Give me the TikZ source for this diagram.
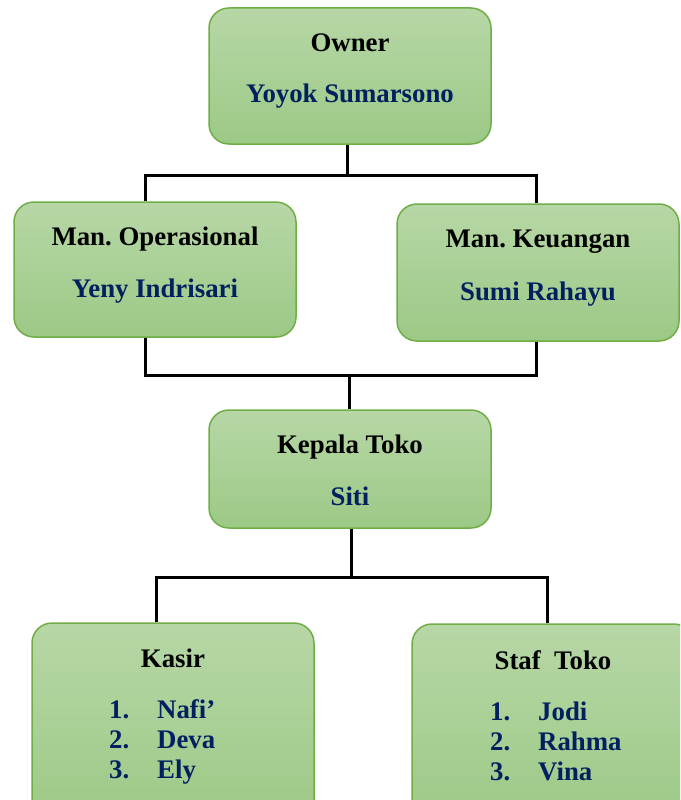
\documentclass[tikz,border=0pt]{standalone}
\usepackage{fontspec}
\setmainfont{Liberation Serif}
\usetikzlibrary{positioning}
\definecolor{boxline}{RGB}{112,173,71}
\definecolor{boxtop}{RGB}{183,215,166}
\definecolor{boxbot}{RGB}{156,201,134}
\definecolor{navy}{RGB}{0,32,96}

\begin{document}
\begin{tikzpicture}[x=1pt, y=-1pt,
  box/.style={draw=boxline, line width=1.5pt, rounded corners=20pt, top color=boxtop, bottom color=boxbot, minimum width=282pt, inner sep=0pt},
  title/.style={anchor=base, font=\fontsize{26.8}{30}\selectfont\bfseries},
  who/.style={title, text=navy},
  crew/.style={anchor=base west, inner sep=0pt, text=navy, font=\fontsize{26.8}{30}\selectfont\bfseries},
  conn/.style={line width=3pt}]
  \clip (0,0) rectangle (680,800);
  % boxes
  \node[box, minimum height=136pt] (owner) at (350,76) {};
  \node[box, minimum height=135pt] (opr) at (155,269.5) {};
  \node[box, minimum height=137pt] (keu) at (538,272.5) {};
  \node[box, minimum height=118pt] (kepala) at (350,469) {};
  \node[box, minimum height=200pt] (kasir) at (173,723) {};
  \node[box, minimum height=200pt] (staf) at (553,724) {};
  % texts
  \node[title] (ownerT) at (350,52) {Owner};
  \node[who] (ownerN) at (350,102) {Yoyok Sumarsono};
  \node[title] (oprT) at (155,245) {Man.\ Operasional};
  \node[who] (oprN) at (155,297) {Yeny Indrisari};
  \node[title] (keuT) at (538,247) {Man.\ Keuangan};
  \node[who] (keuN) at (538,300) {Sumi Rahayu};
  \node[title] (kepalaT) at (350,453) {Kepala Toko};
  \node[who] (kepalaN) at (350,505) {Siti};
  \node[title] (kasirT) at (173,667) {Kasir};
  \node[crew] (kasirL) at (109,718) {\begin{tabular}[t]{@{}p{48pt}@{}l@{}}1. & Nafi’\\ 2. & Deva\\ 3. & Ely\end{tabular}};
  \node[title] (stafT) at (553,669) {Staf\ \ Toko};
  \node[crew] (stafL) at (490,720) {\begin{tabular}[t]{@{}p{48pt}@{}l@{}}1. & Jodi\\ 2. & Rahma\\ 3. & Vina\end{tabular}};
  % connectors
  \coordinate (j1) at (347,175);
  \coordinate (j2) at (349,375);
  \coordinate (j3) at (351,577);
  \draw[conn] ([xshift=-3pt]owner.south) -- (j1);
  \draw[conn] ([xshift=-10pt]opr.north) |- (j1) -| ([xshift=-2pt]keu.north);
  \draw[conn] ([xshift=-10pt]opr.south) |- (j2) -| ([xshift=-2pt]keu.south);
  \draw[conn] (j2) -- ([xshift=-1pt]kepala.north);
  \draw[conn] ([xshift=1pt]kepala.south) -- (j3);
  \draw[conn] ([xshift=-17pt]kasir.north) |- (j3) -| ([xshift=-6pt]staf.north);
\end{tikzpicture}
\end{document}
